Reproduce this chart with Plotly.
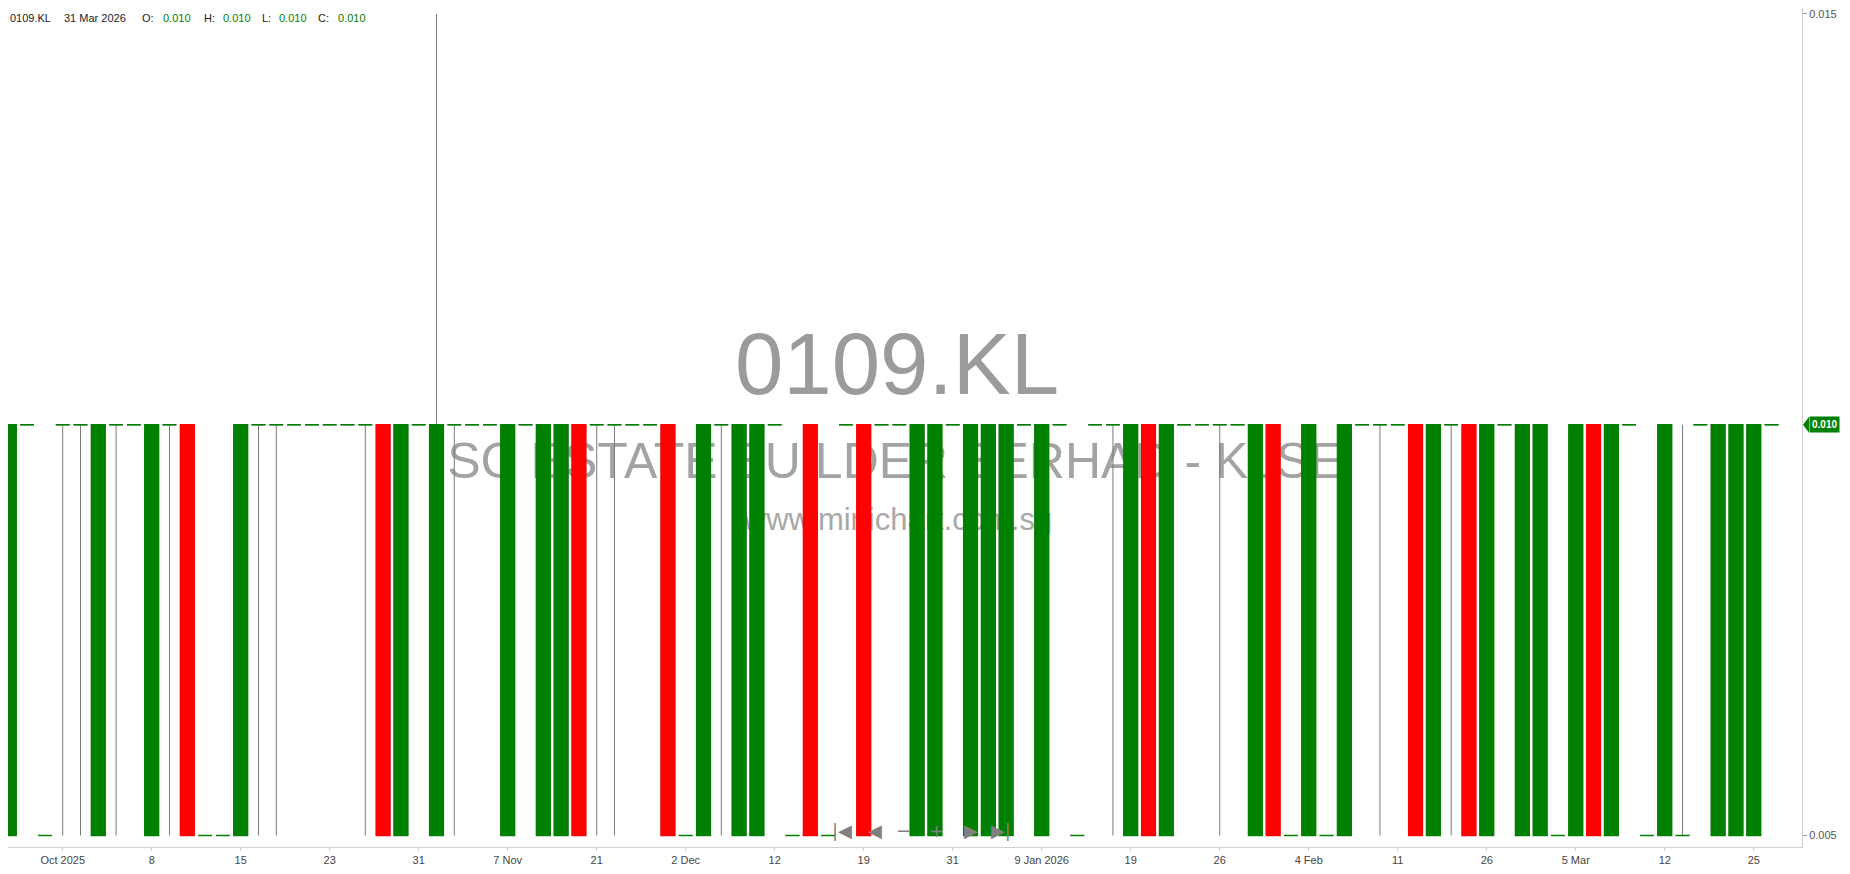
import plotly.graph_objects as go

# daily bars (trading days only)
dates = [
    '2025-09-26', '2025-09-29', '2025-09-30', '2025-10-01', '2025-10-02', '2025-10-03', '2025-10-06', '2025-10-07', '2025-10-08', '2025-10-09',
    '2025-10-10', '2025-10-13', '2025-10-14', '2025-10-15', '2025-10-16', '2025-10-17', '2025-10-21', '2025-10-22', '2025-10-23', '2025-10-24',
    '2025-10-27', '2025-10-28', '2025-10-30', '2025-10-31', '2025-11-03', '2025-11-04', '2025-11-05', '2025-11-06', '2025-11-07', '2025-11-10',
    '2025-11-12', '2025-11-14', '2025-11-18', '2025-11-21', '2025-11-24', '2025-11-25', '2025-11-27', '2025-12-01', '2025-12-02', '2025-12-03',
    '2025-12-05', '2025-12-08', '2025-12-10', '2025-12-12', '2025-12-15', '2025-12-16', '2025-12-17', '2025-12-18', '2025-12-19', '2025-12-22',
    '2025-12-23', '2025-12-24', '2025-12-29', '2025-12-31', '2026-01-02', '2026-01-05', '2026-01-06', '2026-01-08', '2026-01-09', '2026-01-12',
    '2026-01-13', '2026-01-14', '2026-01-16', '2026-01-19', '2026-01-20', '2026-01-21', '2026-01-22', '2026-01-23', '2026-01-26', '2026-01-27',
    '2026-01-28', '2026-01-29', '2026-02-02', '2026-02-04', '2026-02-05', '2026-02-06', '2026-02-09', '2026-02-10', '2026-02-11', '2026-02-12',
    '2026-02-13', '2026-02-23', '2026-02-25', '2026-02-26', '2026-02-27', '2026-03-02', '2026-03-03', '2026-03-04', '2026-03-05', '2026-03-06',
    '2026-03-09', '2026-03-10', '2026-03-11', '2026-03-12', '2026-03-13', '2026-03-16', '2026-03-18', '2026-03-24', '2026-03-25', '2026-03-31',
]

opens = [
    .005, .010, .005, .010, .010, .005, .010, .010, .005, .010,
    .010, .005, .005, .005, .010, .010, .010, .010, .010, .010,
    .010, .010, .005, .010, .005, .010, .010, .010, .005, .010,
    .005, .005, .010, .010, .010, .010, .010, .010, .005, .005,
    .010, .005, .005, .010, .005, .010, .005, .010, .010, .010,
    .010, .005, .005, .010, .005, .005, .005, .010, .005, .010,
    .005, .010, .010, .005, .010, .005, .010, .010, .010, .010,
    .005, .010, .005, .005, .005, .005, .010, .010, .010, .010,
    .005, .010, .010, .005, .010, .005, .005, .005, .005, .010,
    .005, .010, .005, .005, .005, .010, .005, .005, .005, .010,
]
highs = [
    .010, .010, .005, .010, .010, .010, .010, .010, .010, .010,
    .010, .005, .005, .010, .010, .010, .010, .010, .010, .010,
    .010, .010, .010, .010, .015, .010, .010, .010, .010, .010,
    .010, .010, .010, .010, .010, .010, .010, .010, .005, .010,
    .010, .010, .010, .010, .005, .010, .005, .010, .010, .010,
    .010, .010, .010, .010, .010, .010, .010, .010, .010, .010,
    .005, .010, .010, .010, .010, .010, .010, .010, .010, .010,
    .010, .010, .005, .010, .005, .010, .010, .010, .010, .010,
    .010, .010, .010, .010, .010, .010, .010, .005, .010, .010,
    .010, .010, .005, .010, .010, .010, .010, .010, .010, .010,
]
lows = [
    .005, .010, .005, .005, .005, .005, .005, .010, .005, .005,
    .005, .005, .005, .005, .005, .005, .010, .010, .010, .010,
    .005, .005, .005, .010, .005, .005, .010, .010, .005, .010,
    .005, .005, .005, .005, .005, .010, .010, .005, .005, .005,
    .005, .005, .005, .010, .005, .005, .005, .010, .005, .010,
    .010, .005, .005, .010, .005, .005, .005, .010, .005, .010,
    .005, .010, .005, .005, .005, .005, .010, .010, .005, .010,
    .005, .005, .005, .005, .005, .005, .010, .005, .010, .005,
    .005, .005, .005, .005, .010, .005, .005, .005, .005, .005,
    .005, .010, .005, .005, .005, .010, .005, .005, .005, .010,
]
closes = [
    .010, .010, .005, .010, .010, .010, .010, .010, .010, .010,
    .005, .005, .005, .010, .010, .010, .010, .010, .010, .010,
    .010, .005, .010, .010, .010, .010, .010, .010, .010, .010,
    .010, .010, .005, .010, .010, .010, .010, .005, .005, .010,
    .010, .010, .010, .010, .005, .005, .005, .010, .005, .010,
    .010, .010, .010, .010, .010, .010, .010, .010, .010, .010,
    .005, .010, .010, .010, .005, .010, .010, .010, .010, .010,
    .010, .005, .005, .010, .005, .010, .010, .010, .010, .005,
    .010, .010, .005, .010, .010, .010, .010, .005, .010, .005,
    .010, .010, .005, .010, .005, .010, .010, .010, .010, .010,
]

tick_dates = ['2025-10-01', '2025-10-08', '2025-10-15', '2025-10-23', '2025-10-31', '2025-11-07', '2025-11-21',
              '2025-12-02', '2025-12-12', '2025-12-19', '2025-12-31', '2026-01-09', '2026-01-19', '2026-01-26',
              '2026-02-04', '2026-02-11', '2026-02-26', '2026-03-05', '2026-03-12', '2026-03-25']
tick_labels = ['Oct 2025', '8', '15', '23', '31', '7 Nov', '21', '2 Dec', '12', '19', '31', '9 Jan 2026',
               '19', '26', '4 Feb', '11', '26', '5 Mar', '12', '25']

GREEN = '#008000'
RED = '#ff0000'
WICK = '#7a7a7a'
FONT = 'Liberation Sans, Arial, sans-serif'

# the page body has an 8px margin, so the figure sits at (8, 8)
OFF = 8
W, H = 1850 - OFF, 874 - OFF
PW, PH = 1802 - OFF, 847 - OFF   # plot area in px


def px_x(x):
    return (x - OFF) / PW


def px_y(y):
    return 1 - (y - OFF) / PH


def candle_style(color, width):
    return dict(line=dict(color=color, width=width), fillcolor=color)


# gray wicks underneath the coloured bodies
fig = go.Figure()
fig.add_trace(go.Candlestick(
    x=dates, open=opens, high=highs, low=lows, close=closes,
    increasing=candle_style(WICK, 1), decreasing=candle_style(WICK, 1),
    whiskerwidth=0, showlegend=False, hoverinfo='skip',
))

body_top = [max(o, c) for o, c in zip(opens, closes)]
body_bot = [min(o, c) for o, c in zip(opens, closes)]
up = [i for i in range(len(dates)) if closes[i] >= opens[i]]
down = [i for i in range(len(dates)) if closes[i] < opens[i]]

for idx, col in [(up, GREEN), (down, RED)]:
    fig.add_trace(go.Candlestick(
        x=[dates[i] for i in idx],
        open=[opens[i] for i in idx],
        high=[body_top[i] for i in idx],
        low=[body_bot[i] for i in idx],
        close=[closes[i] for i in idx],
        increasing=candle_style(col, 1.5), decreasing=candle_style(col, 1.5),
        whiskerwidth=0, showlegend=False,
    ))


# watermark behind the candles
def watermark(text, cx, cy, size, color):
    return dict(
        type='rect', xref='paper', yref='paper', layer='below',
        x0=px_x(cx) - 0.01, x1=px_x(cx) + 0.01, y0=px_y(cy) - 0.01, y1=px_y(cy) + 0.01,
        line=dict(width=0), fillcolor='rgba(0,0,0,0)',
        label=dict(text=text, textposition='middle center',
                   font=dict(size=size, color=color, family=FONT)),
    )


shapes = [
    watermark('0109.KL', 897, 355, 87, '#9b9b9b'),
    watermark('SC ESTATE BUILDER BERHAD - KLSE', 895, 456, 50, '#a3a3a3'),
    watermark('www.minichart.com.sg', 898, 516, 31, '#a8a8a8'),
]

# last price marker pointer
last = closes[-1]
shapes.append(dict(
    type='path', xref='paper', yref='y',
    path=f'M {1 + 1 / PW} {last} L {1 + 7 / PW} {last + 8 / 82000} L {1 + 7 / PW} {last - 8 / 82000} Z',
    fillcolor=GREEN, line=dict(width=0),
))

annotations = [dict(
    xref='paper', yref='y', x=1 + 7 / PW, y=last, xanchor='left', yanchor='middle',
    text=f'<b>{last:.3f}</b>', showarrow=False, bgcolor=GREEN, borderpad=2,
    font=dict(size=10, color='white', family=FONT),
)]

# header line
header = [
    ('0109.KL', 8, '#222'), ('31 Mar 2026', 62, '#222'),
    ('O:', 140, '#222'), (f'{opens[-1]:.3f}', 161, GREEN),
    ('H:', 202, '#222'), (f'{highs[-1]:.3f}', 221, GREEN),
    ('L:', 260, '#222'), (f'{lows[-1]:.3f}', 277, GREEN),
    ('C:', 316, '#222'), (f'{closes[-1]:.3f}', 336, GREEN),
]
for txt, x, col in header:
    annotations.append(dict(
        xref='paper', yref='paper', x=px_x(x), y=px_y(18), xanchor='left', yanchor='middle',
        text=txt, showarrow=False, font=dict(size=11, color=col, family=FONT),
    ))

# navigation buttons
for sym, x in [('|◀', 842), ('◀', 875), ('−', 903), ('+', 937), ('▶', 971), ('▶|', 1001)]:
    annotations.append(dict(
        xref='paper', yref='paper', x=px_x(x), y=px_y(830), xanchor='center', yanchor='middle',
        text=sym, showarrow=False, font=dict(size=18, color='#808080', family='DejaVu Sans'),
    ))

fig.update_layout(
    width=W, height=H,
    margin=dict(l=0, r=W - PW, t=0, b=H - PH),
    paper_bgcolor='white', plot_bgcolor='white',
    boxmode='overlay', boxgap=0.23, boxgroupgap=0,
    font=dict(family=FONT, size=11, color='#444'),
    shapes=shapes, annotations=annotations,
    showlegend=False,
)
fig.update_xaxes(
    type='category', range=[-0.073, 100.71],
    tickvals=tick_dates, ticktext=tick_labels,
    showgrid=False, zeroline=False, showline=True, linecolor='#d0d0d0',
    ticks='outside', ticklen=3, tickcolor='#cccccc',
    tickfont=dict(size=11, color='#444'),
    rangeslider=dict(visible=False),
)
fig.update_yaxes(
    side='right', range=[0.00486, 0.015072],
    tickvals=[0.005, 0.015], ticktext=['0.005', '0.015'],
    ticklabeloverflow='allow',
    showgrid=False, zeroline=False, showline=True, linecolor='#d0d0d0',
    ticks='outside', ticklen=4, tickcolor='#999999',
    tickfont=dict(size=11, color='#555'),
)

fig.write_html("out.html")
